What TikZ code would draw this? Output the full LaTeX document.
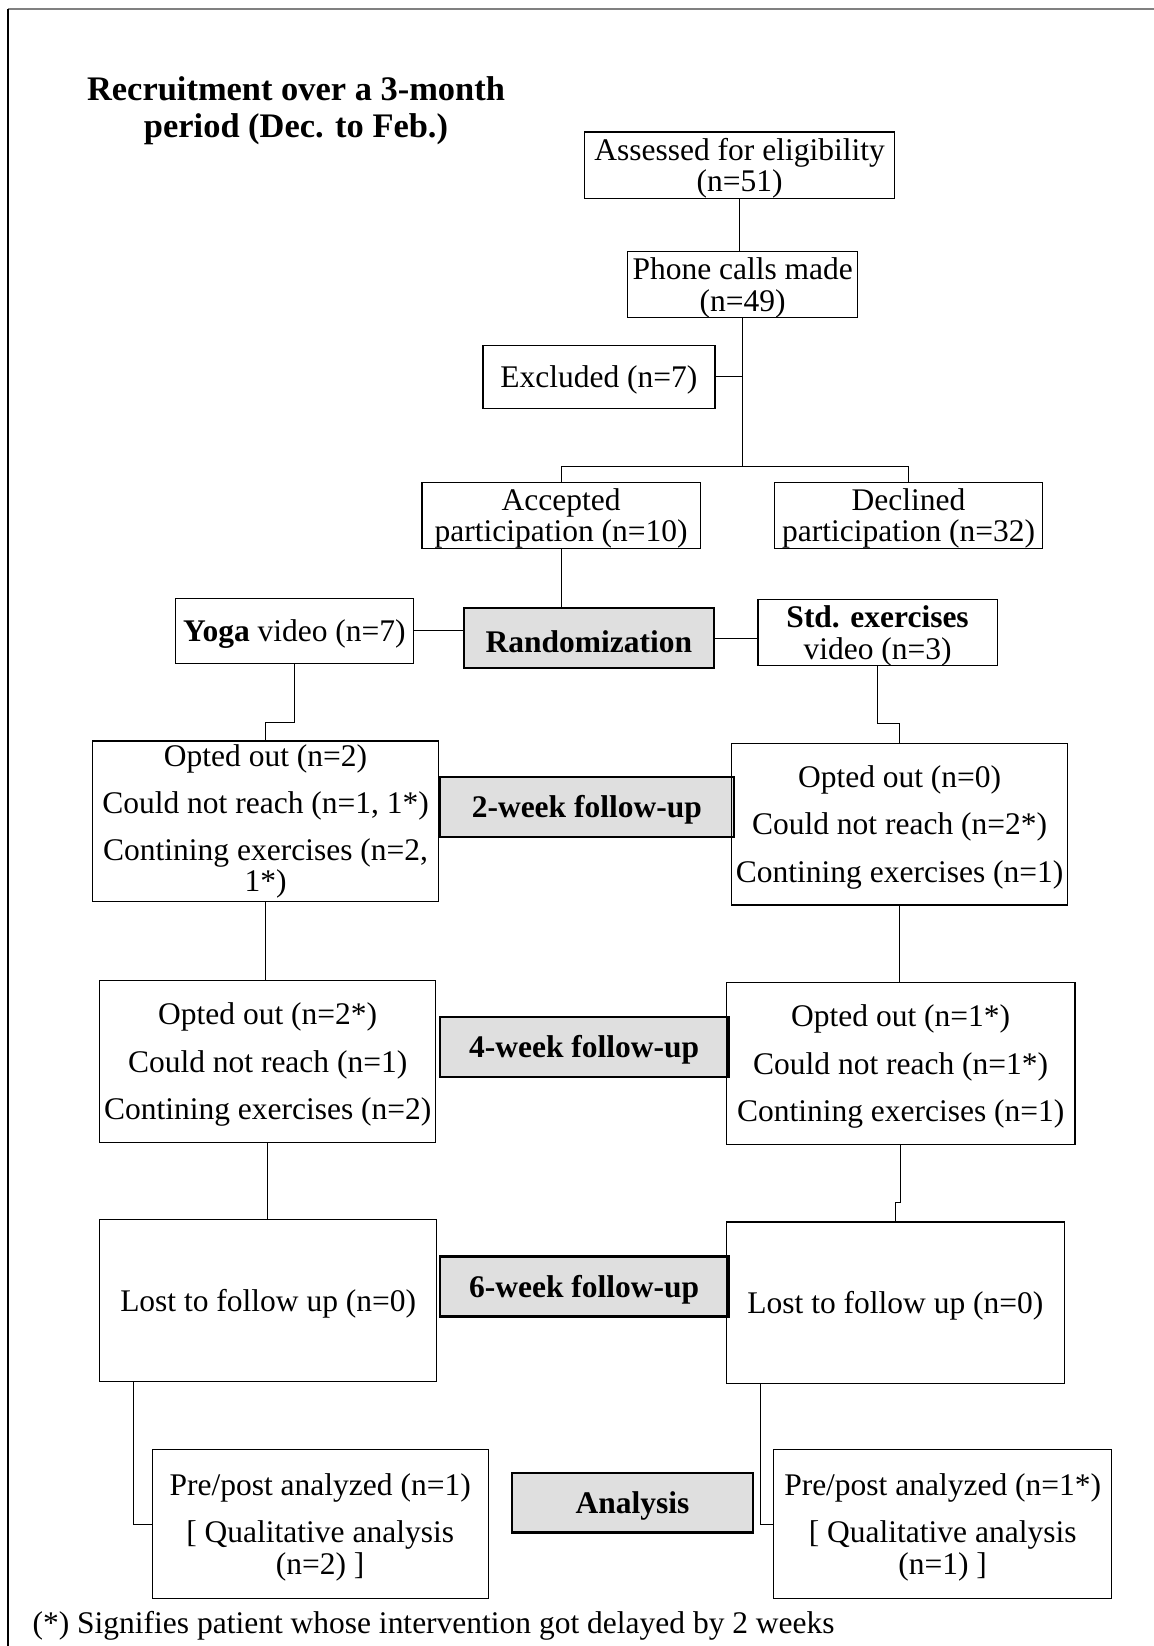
\documentclass[tikz,border=0pt]{standalone}
\usepackage{fontspec}
\setmainfont{Liberation Serif}
\definecolor{boxgray}{RGB}{223,223,223}
\newcommand{\tstrut}{\rule{0pt}{13.5pt}}
\tikzset{
  bx/.style={draw, inner sep=0pt, align=center, line width=0.6pt,
    font=\fontsize{15}{15}\selectfont,
    execute at begin node={\tstrut}},
  gbx/.style={bx, fill=boxgray, line width=1.1pt, font=\fontsize{15}{15}\selectfont\bfseries},
  sz/.style 2 args={minimum width=#1, minimum height=#2},
  conn/.style={draw, line width=0.5pt}
}
\begin{document}
\begin{tikzpicture}[x=0.5pt,y=-0.5pt]
\useasboundingbox (0,0) rectangle (1099,1568);
% frame
\draw[gray, line width=1pt] (7.6,8.6) -- (1099,8.6);
\draw[black, line width=0.8pt] (7.6,8.6) -- (7.6,1568);
% title
\node[align=center, font=\fontsize{16.4}{18}\selectfont\bfseries] (title) at (282,105.5)
  {Recruitment over a 3-month\\period (Dec. to Feb.)};
% boxes
\node[bx, sz={147.5pt}{29.5pt}] (assess) at (704.5,157.5) {\tstrut Assessed for eligibility\\(n=51)};
\node[bx, sz={109.5pt}{30pt}] (phone) at (707.5,271) {\tstrut Phone calls made\\(n=49)};
\node[bx, sz={110.5pt}{30pt}] (excl) at (570.5,359) {Excluded (n=7)};
\node[bx, sz={132.5pt}{30pt}] (accept) at (534.5,491) {\tstrut Accepted\\participation (n=10)};
\node[bx, sz={127.5pt}{30pt}] (decline) at (865.5,491) {\tstrut Declined\\participation (n=32)};
\node[gbx, sz={119pt}{28.5pt}] (rand) at (561,608) {Randomization};
\node[bx, sz={113.5pt}{31pt}] (yoga) at (280.5,601) {{\bfseries Yoga} video (n=7)};
\node[bx, sz={114pt}{31.5pt}] (std) at (836,602.5) {\tstrut{\bfseries Std. exercises}\\video (n=3)};
\node[bx, sz={165pt}{76.5pt}] (l2) at (253,782.5) {Opted out (n=2)\\[7.5pt]Could not reach (n=1, 1*)\\[7.5pt]Contining exercises (n=2,\\1*)};
\node[gbx, sz={140pt}{28.5pt}] (w2) at (559,768.5) {2-week follow-up};
\node[bx, sz={160pt}{77pt}] (r2) at (857,785) {\tstrut Opted out (n=0)\\[7.5pt]Could not reach (n=2*)\\[7.5pt]Contining exercises (n=1)};
\node[bx, sz={160pt}{77pt}] (l4) at (255,1011) {\tstrut Opted out (n=2*)\\[7.5pt]Could not reach (n=1)\\[7.5pt]Contining exercises (n=2)};
\node[gbx, sz={137.5pt}{28.5pt}] (w4) at (556.5,997.5) {4-week follow-up};
\node[bx, sz={166pt}{77pt}] (r4) at (858,1013) {\tstrut Opted out (n=1*)\\[7.5pt]Could not reach (n=1*)\\[7.5pt]Contining exercises (n=1)};
\node[bx, sz={160.5pt}{77pt}] (l6) at (255.5,1239) {Lost to follow up (n=0)};
\node[gbx, sz={137.5pt}{28.5pt}] (w6) at (556.5,1225.5) {6-week follow-up};
\node[bx, sz={161pt}{77pt}] (r6) at (853,1241) {Lost to follow up (n=0)};
\node[bx, sz={160pt}{71pt}] (la) at (305,1452) {\tstrut Pre/post analyzed (n=1)\\[7.5pt][ Qualitative analysis\\(n=2) ]};
\node[gbx, sz={114.5pt}{28.5pt}] (an) at (602.5,1431.5) {Analysis};
\node[bx, sz={161pt}{71pt}] (ra) at (898,1452) {\tstrut Pre/post analyzed (n=1*)\\[7.5pt][ Qualitative analysis\\(n=1) ]};
\node[anchor=west, font=\fontsize{15}{15.5}\selectfont] (foot) at (24,1549)
  {(*) Signifies patient whose intervention got delayed by 2 weeks};
% connectors
\coordinate (br) at (706,444);
\draw[conn] (assess.south) -- (assess.south |- phone.north);
\draw[conn] (phone.south) -- (phone.south |- br);
\draw[conn] (excl.east) -- (excl.east -| phone.south);
\draw[conn] (accept.north) |- (br) -| (decline.north);
\draw[conn] (accept.south) -- (accept.south |- rand.north);
\draw[conn] (yoga.east) -- (yoga.east -| rand.west);
\draw[conn] (rand.east) -- (rand.east -| std.west);
\draw[conn] (yoga.south) -- ++(0,56) -| (l2.north);
\draw[conn] (std.south) -- ++(0,54) -| (r2.north);
\draw[conn] (l2.south) -- (l2.south |- l4.north);
\draw[conn] (r2.south) -- (r2.south |- r4.north);
\draw[conn] (l4.south) -- (l4.south |- l6.north);
\draw[conn] (r4.south) -- ++(0,55) -| (r6.north);
\draw[conn] ([xshift=16.5pt]l6.south west) |- (la.west);
\draw[conn] ([xshift=16.5pt]r6.south west) |- (ra.west);
\end{tikzpicture}
\end{document}
